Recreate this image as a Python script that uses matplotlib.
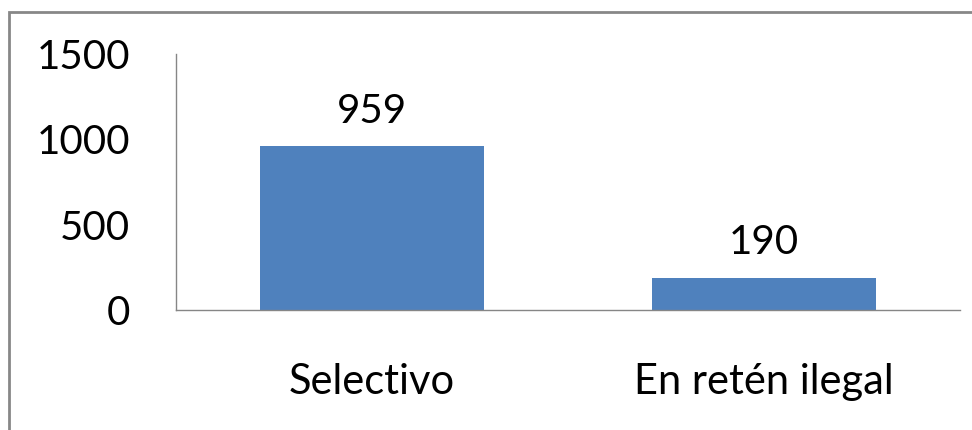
import matplotlib
matplotlib.use("Agg")
import matplotlib.pyplot as plt
from matplotlib.patches import Rectangle

categories = ["Selectivo", "En retén ilegal"]
values = [959, 190]
yticks = [0, 500, 1000, 1500]

plt.rcParams['font.family'] = ['Lato', 'DejaVu Sans']

fig = plt.figure(figsize=(9.72, 4.30), dpi=100)
W, H = 972, 430
ax = fig.add_axes([176 / W, 1 - 310 / H, (960 - 176) / W, (310 - 54) / H])

x = list(range(len(categories)))
ax.bar(x, values, width=0.57, color='#4F81BD')
ax.set_xlim(-0.5, 1.5)
ax.set_ylim(0, 1500)
ax.set_yticks(yticks)
ax.set_yticklabels([str(v) for v in yticks], fontsize=29)
ax.set_xticks(x)
ax.set_xticklabels(categories, fontsize=30)
ax.tick_params(axis='both', length=0)
ax.tick_params(axis='y', pad=33)
ax.tick_params(axis='x', pad=38)
for s in ['top', 'right']:
    ax.spines[s].set_visible(False)
for s in ['left', 'bottom']:
    ax.spines[s].set_color('#868686')
    ax.spines[s].set_linewidth(1)

for xi, v in zip(x, values):
    ax.annotate(str(v), (xi, v), xytext=(0, 12), textcoords='offset points',
                ha='center', va='bottom', fontsize=29)

fig.patches.append(Rectangle((9 / W, -0.1), 1.2, 1 - 12 / H + 0.1,
                             transform=fig.transFigure, fill=False,
                             edgecolor='#878787', linewidth=2))

fig.savefig('out.png', dpi=100)
